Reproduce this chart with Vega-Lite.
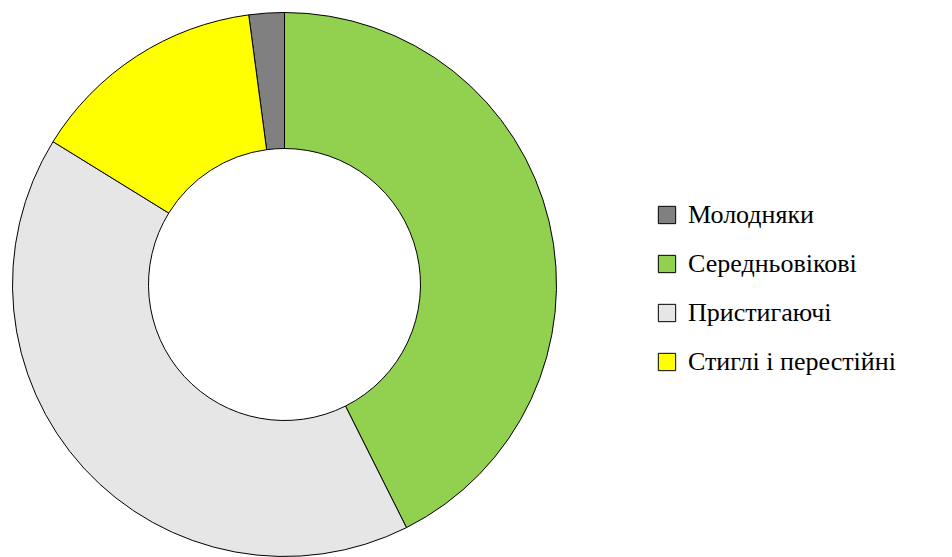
{
  "$schema": "https://vega.github.io/schema/vega-lite/v6.json",
  "width": 545,
  "height": 545,
  "autosize": {"type": "none"},
  "padding": {"left": 12, "top": 12, "right": 395, "bottom": 0},
  "background": "white",
  "data": {
    "values": [
      {"category": "Молодняки", "value": 2.1, "order": 4},
      {"category": "Середньовікові", "value": 42.6, "order": 1},
      {"category": "Пристигаючі", "value": 41.2, "order": 2},
      {"category": "Стиглі і перестійні", "value": 14.1, "order": 3}
    ]
  },
  "mark": {"type": "arc", "innerRadius": 136, "outerRadius": 272, "stroke": "black", "strokeWidth": 1},
  "encoding": {
    "theta": {"field": "value", "type": "quantitative", "stack": true},
    "order": {"field": "order", "type": "quantitative"},
    "color": {
      "field": "category",
      "type": "nominal",
      "scale": {
        "domain": ["Молодняки", "Середньовікові", "Пристигаючі", "Стиглі і перестійні"],
        "range": ["#808080", "#92D050", "#E6E6E6", "#FFFF00"]
      },
      "legend": {
        "title": null,
        "orient": "none",
        "legendX": 642,
        "legendY": 190,
        "padding": 0,
        "symbolType": "square",
        "symbolSize": 300,
        "symbolStrokeColor": "black",
        "symbolStrokeWidth": 1,
        "symbolOpacity": 1,
        "labelFontSize": 26,
        "labelColor": "black",
        "labelLimit": 400,
        "labelOffset": 8,
        "rowPadding": 23
      }
    }
  },
  "config": {
    "view": {"stroke": null},
    "font": "Times New Roman",
    "legend": {"labelFont": "Times New Roman"}
  }
}
